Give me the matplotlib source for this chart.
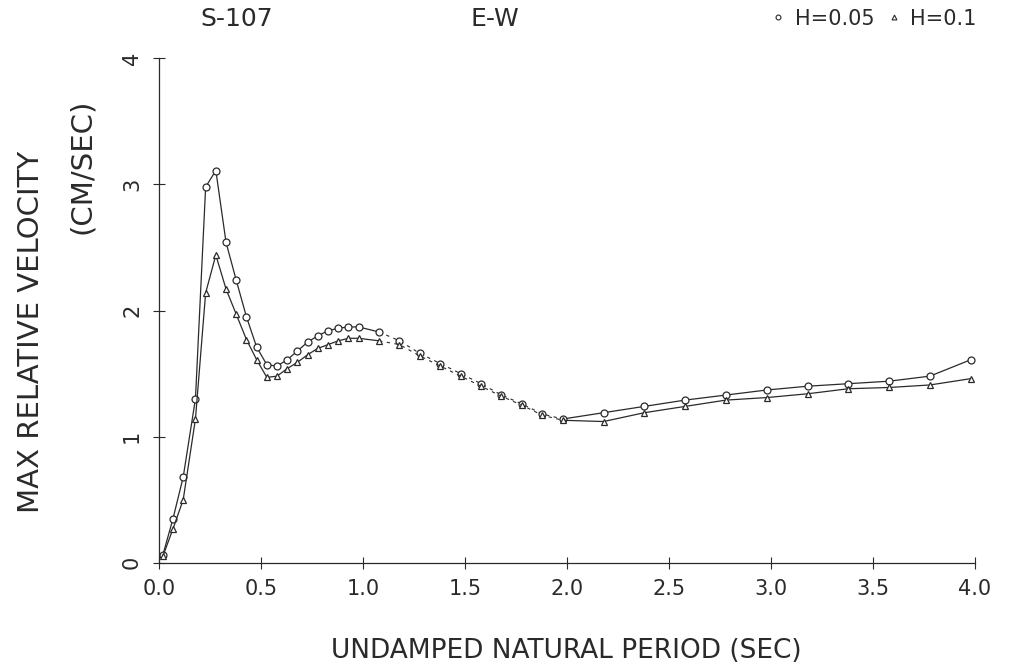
import numpy as np
import matplotlib
matplotlib.use("Agg")
import matplotlib.pyplot as plt

# periods (sec)
period = [0.02, 0.07, 0.12, 0.18, 0.23, 0.28, 0.33, 0.38, 0.43, 0.48,
          0.53, 0.58, 0.63, 0.68, 0.73, 0.78, 0.83, 0.88, 0.93, 0.98,
          1.08, 1.18, 1.28, 1.38, 1.48, 1.58, 1.68, 1.78, 1.88, 1.98,
          2.18, 2.38, 2.58, 2.78, 2.98, 3.18, 3.38, 3.58, 3.78, 3.98]
# H=0.05
vel_h005 = [0.06, 0.35, 0.68, 1.30, 2.98, 3.11, 2.54, 2.24, 1.95, 1.71,
            1.57, 1.56, 1.61, 1.68, 1.75, 1.80, 1.84, 1.86, 1.87, 1.87,
            1.83, 1.76, 1.66, 1.58, 1.50, 1.42, 1.33, 1.26, 1.18, 1.14,
            1.19, 1.24, 1.29, 1.33, 1.37, 1.40, 1.42, 1.44, 1.48, 1.61]
# H=0.1
vel_h01 = [0.05, 0.27, 0.50, 1.14, 2.14, 2.44, 2.17, 1.97, 1.77, 1.61,
           1.47, 1.48, 1.54, 1.59, 1.65, 1.70, 1.73, 1.76, 1.78, 1.78,
           1.76, 1.73, 1.64, 1.56, 1.48, 1.40, 1.32, 1.25, 1.17, 1.13,
           1.12, 1.19, 1.24, 1.29, 1.31, 1.34, 1.38, 1.39, 1.41, 1.46]

xticks = [0.0, 0.5, 1.0, 1.5, 2.0, 2.5, 3.0, 3.5, 4.0]
xticklabels = ["0.0", "0.5", "1.0", "1.5", "2.0", "2.5", "3.0", "3.5", "4.0"]
yticks = [0, 1, 2, 3, 4]

ink = "#2a2a2a"
plt.rcParams['font.family'] = ['DejaVu Sans']

fig = plt.figure(figsize=(10.24, 6.70), dpi=100)
ax = fig.add_axes([0.155, 0.160, 0.797, 0.753])

p = np.array(period)
lo = np.where(p <= 1.1)[0]
md = np.where((p >= 1.0) & (p <= 2.0))[0]
hi = np.where(p >= 1.9)[0]

for vals, mk in [(np.array(vel_h005), 'o'), (np.array(vel_h01), '^')]:
    ax.plot(p[lo], vals[lo], '-', color=ink, lw=0.9)
    ax.plot(p[md], vals[md], '--', color=ink, lw=0.8, dashes=(3, 4))
    ax.plot(p[hi], vals[hi], '-', color=ink, lw=0.9)
    ax.plot(p, vals, mk, color=ink, mfc='white', mew=0.9, ms=5, ls='none')

ax.set_xlim(0, 4.0)
ax.set_ylim(0, 4)
ax.spines['top'].set_visible(False)
ax.spines['right'].set_visible(False)
for s in ['left', 'bottom']:
    ax.spines[s].set_color(ink)
    ax.spines[s].set_linewidth(0.9)

ax.set_xticks(xticks)
ax.set_xticklabels(xticklabels, fontsize=15, color=ink)
ax.set_yticks(yticks)
ax.set_yticklabels([str(v) for v in yticks], fontsize=15, color=ink,
                   rotation=90, va='center')
ax.tick_params(direction='inout', length=8, width=0.8, color=ink, pad=8)

ax.set_xlabel("UNDAMPED NATURAL PERIOD (SEC)", fontsize=19, color=ink,
              labelpad=28)
fig.text(0.030, 0.505, "MAX RELATIVE VELOCITY", rotation=90, fontsize=21,
         color=ink, ha='center', va='center')
fig.text(0.080, 0.752, "(CM/SEC)", rotation=90, fontsize=21,
         color=ink, ha='center', va='center')

fig.text(0.231, 0.972, "S-107", fontsize=18, color=ink, ha='center', va='center')
fig.text(0.483, 0.972, "E-W", fontsize=18, color=ink, ha='center', va='center')

h1, = ax.plot([], [], 'o', color=ink, mfc='white', ms=3.5, mew=0.8)
h2, = ax.plot([], [], '^', color=ink, mfc='white', ms=3.5, mew=0.8)
fig.legend([h1, h2], ["H=0.05", "H=0.1"], loc='center right',
           bbox_to_anchor=(0.972, 0.972), ncol=2, frameon=False,
           handlelength=0.6, handletextpad=0.5, columnspacing=0.6,
           labelcolor=ink, prop={'size': 15})

fig.savefig("out.png", dpi=100)
